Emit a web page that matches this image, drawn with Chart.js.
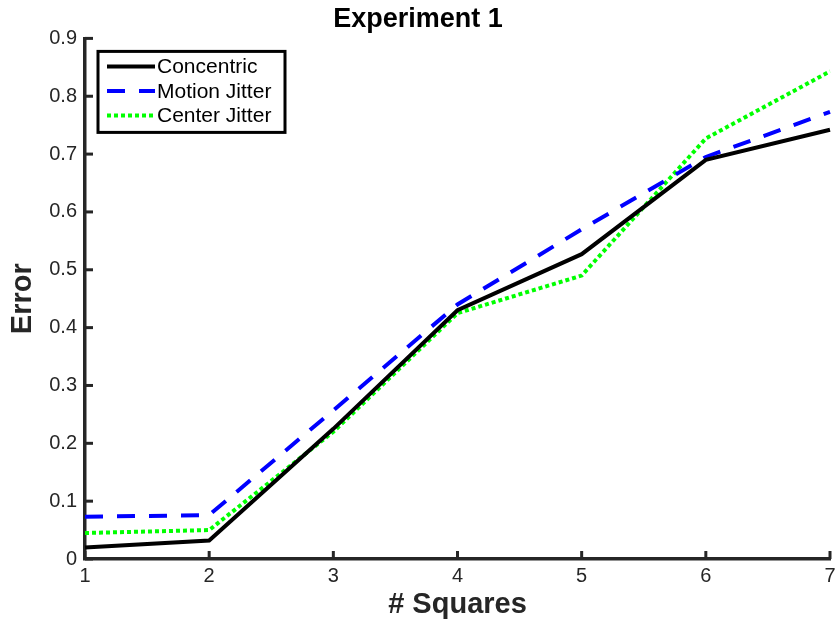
<!DOCTYPE html>
<html><head><meta charset="utf-8">
<script src="https://cdn.jsdelivr.net/npm/chart.js@4.4.1/dist/chart.umd.min.js"></script>
<style>html,body{margin:0;padding:0;background:#fff}#wrap{width:836px;height:627px}</style>
</head><body><div id="wrap"><canvas id="c" width="836" height="627"></canvas></div>
<script>
const categories = ['1','2','3','4','5','6','7'];
const concentric = [0.020, 0.032, 0.225, 0.430, 0.527, 0.690, 0.742];
const motionJitter = [0.073, 0.076, 0.257, 0.440, 0.570, 0.695, 0.773];
const centerJitter = [0.045, 0.050, 0.220, 0.425, 0.490, 0.727, 0.843];
const yTicks = [0, 0.1, 0.2, 0.3, 0.4, 0.5, 0.6, 0.7, 0.8, 0.9];

const FONT = "'Liberation Sans', Arial, Helvetica, sans-serif";
const AXIS = '#262626';

const inwardTicks = {
  id: 'inwardTicks',
  afterDatasetsDraw(chart) {
    const {ctx, chartArea, scales: {x, y}} = chart;
    ctx.save();
    ctx.strokeStyle = AXIS;
    ctx.lineWidth = 3;
    x.ticks.forEach((t, i) => {
      const px = x.getPixelForTick(i);
      ctx.beginPath(); ctx.moveTo(px, chartArea.bottom); ctx.lineTo(px, chartArea.bottom - 8); ctx.stroke();
    });
    y.ticks.forEach((t, i) => {
      const py = y.getPixelForTick(i);
      ctx.beginPath(); ctx.moveTo(chartArea.left, py); ctx.lineTo(chartArea.left + 8, py); ctx.stroke();
    });
    ctx.restore();
  }
};

const boxLegend = {
  id: 'boxLegend',
  afterDraw(chart) {
    const {ctx, chartArea} = chart;
    const x0 = chartArea.left + 13, y0 = chartArea.top + 13, w = 187, h = 81;
    ctx.save();
    ctx.fillStyle = '#fff';
    ctx.fillRect(x0, y0, w, h);
    ctx.strokeStyle = '#000'; ctx.lineWidth = 3;
    ctx.strokeRect(x0, y0, w, h);
    ctx.font = '21px ' + FONT;
    ctx.textBaseline = 'middle';
    chart.data.datasets.forEach((ds, i) => {
      const yy = y0 + 15 + i * 24.5;
      ctx.strokeStyle = ds.borderColor; ctx.lineWidth = 4;
      ctx.setLineDash(ds.borderDash || []);
      ctx.beginPath(); ctx.moveTo(x0 + 9, yy); ctx.lineTo(x0 + 57, yy); ctx.stroke();
      ctx.setLineDash([]);
      ctx.fillStyle = '#000';
      ctx.fillText(ds.label, x0 + 59, yy + 1);
    });
    ctx.restore();
  }
};

new Chart(document.getElementById('c'), {
  type: 'line',
  data: {
    labels: categories,
    datasets: [
      {label: 'Concentric', data: concentric, borderColor: '#000000', borderWidth: 4, pointRadius: 0, fill: false, tension: 0},
      {label: 'Motion Jitter', data: motionJitter, borderColor: '#0000ff', borderWidth: 4, borderDash: [18, 14], pointRadius: 0, fill: false, tension: 0},
      {label: 'Center Jitter', data: centerJitter, borderColor: '#00ff00', borderWidth: 4, borderDash: [4, 3], pointRadius: 0, fill: false, tension: 0}
    ]
  },
  options: {
    responsive: false,
    animation: false,
    layout: {padding: {right: 0, top: 0, left: 0, bottom: 0}},
    plugins: {
      legend: {display: false},
      tooltip: {enabled: false},
      title: {display: true, text: 'Experiment 1', color: '#000', font: {family: FONT, size: 27, weight: 'bold'}, padding: {top: 3, bottom: 3}}
    },
    scales: {
      x: {
        type: 'category',
        offset: false,
        grid: {display: true, drawOnChartArea: false, drawTicks: false},
        border: {display: true, color: AXIS, width: 3.5},
        ticks: {color: '#262626', font: {family: FONT, size: 20}, padding: 5, maxRotation: 0},
        title: {display: true, text: '# Squares', color: '#262626', font: {family: FONT, size: 29, weight: 'bold'}, padding: {top: 0, bottom: 5}},
        afterFit(s) { s.height = 68; s.paddingRight = 6; }
      },
      y: {
        min: 0, max: 0.9,
        afterBuildTicks(s) { s.ticks = yTicks.map(v => ({value: v})); },
        grid: {display: true, drawOnChartArea: false, drawTicks: false},
        border: {display: true, color: AXIS, width: 3.5},
        ticks: {color: '#262626', font: {family: FONT, size: 20}, padding: 8, callback: v => v === 0 ? '0' : v.toFixed(1)},
        title: {display: true, text: 'Error', color: '#262626', font: {family: FONT, size: 29, weight: 'bold'}, padding: {top: 6, bottom: 0}},
        afterFit(s) { s.width = 85; }
      }
    }
  },
  plugins: [inwardTicks, boxLegend]
});
</script>
</body></html>
